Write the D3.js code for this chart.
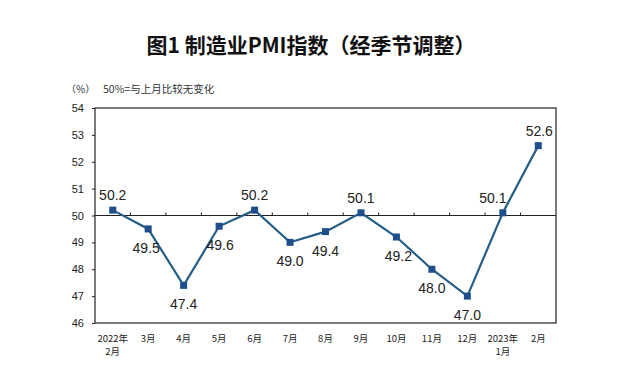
<!DOCTYPE html>
<html>
<head>
<meta charset="utf-8">
<script src="https://cdn.jsdelivr.net/npm/d3@7"></script>
<style>
  body { margin: 0; background: #fff; }
  svg { display: block; font-family: "Liberation Sans", Arial, "Noto Sans CJK SC", sans-serif; }
</style>
</head>
<body>
<svg id="chart" width="640" height="386"></svg>
<script>
// months shown on the x axis (first line / second line)
var months = ["2022-02", "2022-03", "2022-04", "2022-05", "2022-06", "2022-07", "2022-08",
	"2022-09", "2022-10", "2022-11", "2022-12", "2023-01", "2023-02"];
var monthLabels = [["2022年", "2月"], ["3月"], ["4月"], ["5月"], ["6月"], ["7月"], ["8月"],
	["9月"], ["10月"], ["11月"], ["12月"], ["2023年", "1月"], ["2月"]];
var pmi = [50.2, 49.5, 47.4, 49.6, 50.2, 49.0, 49.4, 50.1, 49.2, 48.0, 47.0, 50.1, 52.6];
var yTicks = [46, 47, 48, 49, 50, 51, 52, 53, 54];

var svg = d3.select("#chart");
var plotLeft = 95, plotRight = 556, plotTop = 108, plotBottom = 323;

var xScale = d3.scaleBand().domain(months).range([plotLeft, plotRight]);
var yScale = d3.scaleLinear().domain([46, 54]).range([plotBottom, plotTop]);

var cjk = "'Noto Sans CJK SC', sans-serif";

// title
svg.append("text")
	.attr("x", 311).attr("y", 53)
	.attr("text-anchor", "middle")
	.style("font-family", cjk)
	.style("font-size", "21px")
	.style("font-weight", "bold")
	.attr("fill", "#111")
	.text("图1 制造业PMI指数（经季节调整）");

svg.append("text")
	.attr("x", 66).attr("y", 93)
	.style("font-family", cjk).style("font-size", "10px").attr("fill", "#333")
	.text("（%）");
svg.append("text")
	.attr("x", 103).attr("y", 93)
	.style("font-family", cjk).style("font-size", "10.5px").attr("fill", "#333")
	.text("50%=与上月比较无变化");

// frame
svg.append("rect")
	.attr("x", plotLeft).attr("y", plotTop)
	.attr("width", plotRight - plotLeft).attr("height", plotBottom - plotTop)
	.attr("fill", "none").attr("stroke", "#222").attr("stroke-width", 1.2);

// y axis
var yAxis = svg.append("g")
	.attr("transform", "translate(" + plotLeft + ",0)")
	.call(d3.axisLeft(yScale).tickValues(yTicks).tickSize(3).tickPadding(8));
yAxis.select(".domain").remove();
yAxis.selectAll("line").attr("stroke", "#222");
yAxis.selectAll("text")
	.style("font-family", "'Liberation Sans', Arial, sans-serif")
	.style("font-size", "11px").attr("fill", "#222");

// 50 line with small upward ticks at band boundaries
svg.append("line")
	.attr("x1", plotLeft).attr("x2", plotRight)
	.attr("y1", yScale(50)).attr("y2", yScale(50))
	.attr("stroke", "#222").attr("stroke-width", 1.2);
svg.selectAll(".xtick").data(months.slice(1)).enter().append("line")
	.attr("class", "xtick")
	.attr("x1", function(d) { return xScale(d); })
	.attr("x2", function(d) { return xScale(d); })
	.attr("y1", yScale(50)).attr("y2", yScale(50) - 3)
	.attr("stroke", "#222");

// x labels
var xl = svg.selectAll(".xlabel").data(months).enter().append("text")
	.attr("class", "xlabel")
	.attr("text-anchor", "middle")
	.style("font-family", cjk)
	.style("font-size", "9.5px")
	.attr("fill", "#222");
xl.each(function(d, i) {
	var t = d3.select(this);
	var x = xScale(d) + xScale.bandwidth() / 2;
	monthLabels[i].forEach(function(s, j) {
		t.append("tspan").attr("x", x).attr("y", 342 + j * 13).text(s);
	});
});

// line
var cx = function(d, i) { return xScale(months[i]) + xScale.bandwidth() / 2; };
var line = d3.line().x(function(d, i) { return cx(d, i); }).y(function(d) { return yScale(d); });
svg.append("path")
	.datum(pmi)
	.attr("d", line)
	.attr("fill", "none")
	.attr("stroke", "#255e87")
	.attr("stroke-width", 2.2);

svg.selectAll(".marker").data(pmi).enter().append("rect")
	.attr("class", "marker")
	.attr("x", function(d, i) { return cx(d, i) - 3.5; })
	.attr("y", function(d) { return yScale(d) - 3.5; })
	.attr("width", 7).attr("height", 7)
	.attr("fill", "#1f4e8c");

// value labels: above for peaks, below for dips
var above = [true, false, false, false, true, false, false, true, false, false, false, true, true];
var dx = [0, -2, 0, 1, 0, 0, 0, 0, 2, 0, 0, -10, 1];
svg.selectAll(".vlabel").data(pmi).enter().append("text")
	.attr("class", "vlabel")
	.attr("text-anchor", "middle")
	.attr("x", function(d, i) { return cx(d, i) + dx[i]; })
	.attr("y", function(d, i) { return yScale(d) + (above[i] ? -10 : 24); })
	.style("font-size", "14px")
	.attr("fill", "#222")
	.text(function(d) { return d.toFixed(1); });
</script>
</body>
</html>
